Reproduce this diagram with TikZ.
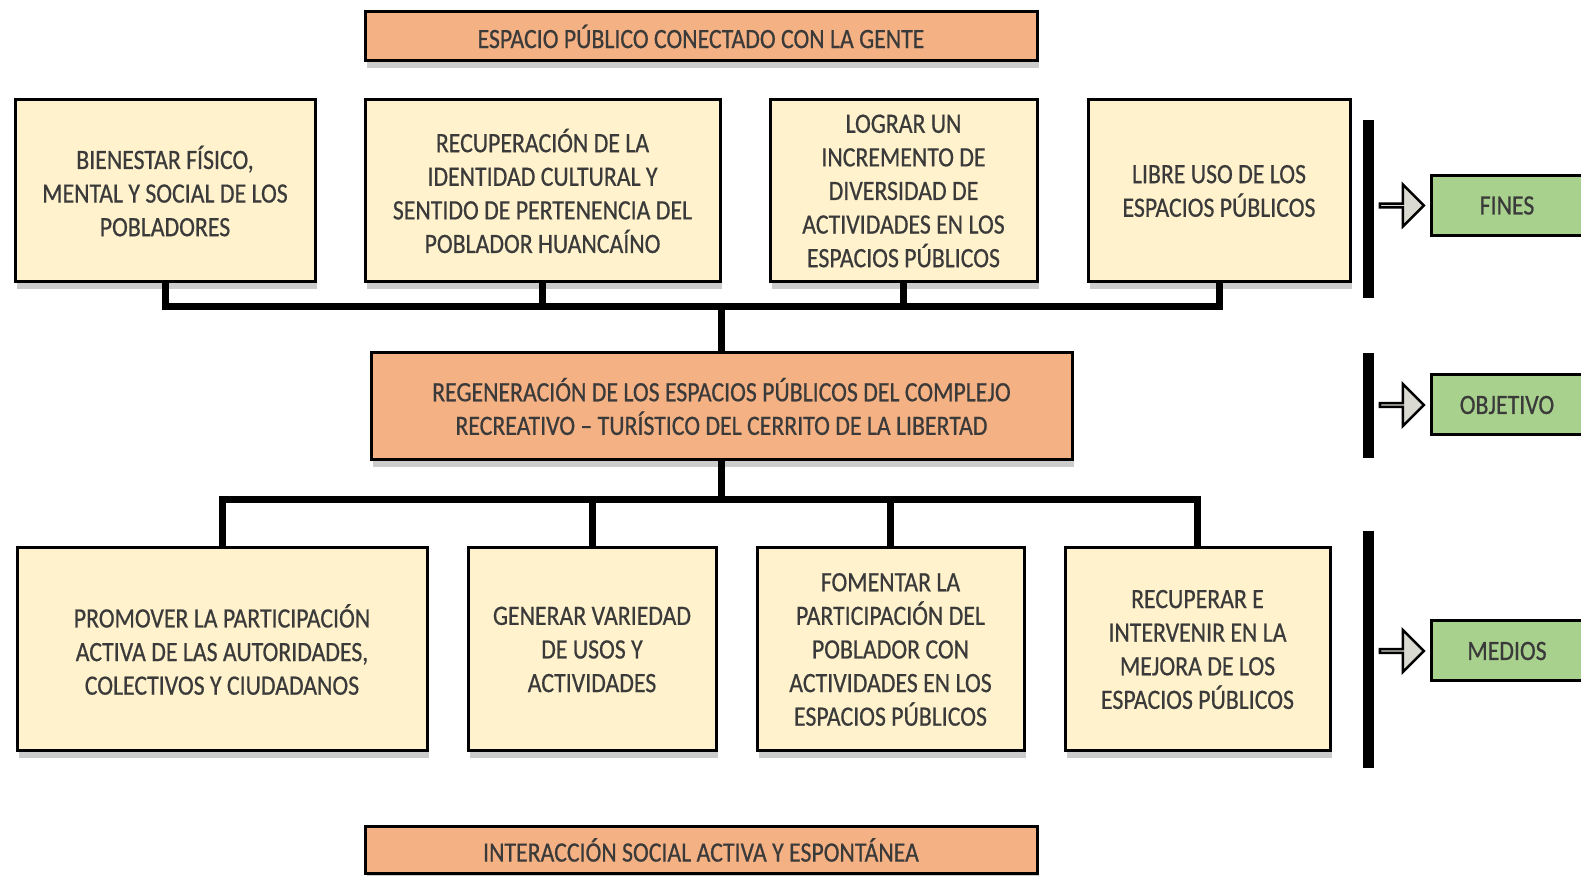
\documentclass[tikz,border=0pt]{standalone}
\usepackage{fontspec}
\setmainfont{Carlito}[FakeStretch=0.85, FakeBold=0.6]
\usepackage{tikz}
\usetikzlibrary{positioning}
\usetikzlibrary{shadows}
\usetikzlibrary{shapes.arrows}
\definecolor{creamfill}{HTML}{FFF2CC}
\definecolor{orangefill}{HTML}{F4B183}
\definecolor{greenfill}{HTML}{A9D18E}
\definecolor{arrowfill}{HTML}{DADAD2}
\definecolor{textgray}{HTML}{3A3A3A}
\tikzset{
  basebox/.style={draw=black, line width=1.5pt, align=center, inner sep=2pt,
    text=textgray, font=\fontsize{14}{16.8}\selectfont,
    drop shadow={shadow xshift=1pt, shadow yshift=-3.5pt, fill=black, opacity=0.2}},
  creambox/.style={basebox, fill=creamfill},
  orangebox/.style={basebox, fill=orangefill},
  greenbox/.style={draw=black, line width=1.5pt, fill=greenfill, text=textgray,
    font=\fontsize{14}{16.8}\selectfont, minimum width=85pt, minimum height=30pt},
  linker/.style={line width=3.5pt},
  sidebar/.style={line width=5.5pt},
  sidearrow/.style={single arrow, draw=black, line width=1.2pt, fill=arrowfill,
    minimum height=22pt, minimum width=21pt, single arrow head extend=6pt, inner sep=0pt}
}
\begin{document}
\begin{tikzpicture}[x=0.5pt, y=-0.5pt]
  % top and bottom %
  \node[orangebox, minimum width=336pt, minimum height=24.5pt] (espacio) at (701,36.5) {ESPACIO PÚBLICO CONECTADO CON LA GENTE};
  \node[orangebox, minimum width=336pt, minimum height=23.5pt] (interaccion) at (701,850) {INTERACCIÓN SOCIAL ACTIVA Y ESPONTÁNEA};
  % fines %
  \node[creambox, minimum width=150pt, minimum height=91pt] (bienestar) at (165,191) {BIENESTAR FÍSICO,\\MENTAL Y SOCIAL DE LOS\\POBLADORES};
  \node[creambox, minimum width=177.5pt, minimum height=91pt] (identidad) at (542.5,191) {RECUPERACIÓN DE LA\\IDENTIDAD CULTURAL Y\\SENTIDO DE PERTENENCIA DEL\\POBLADOR HUANCAÍNO};
  \node[creambox, minimum width=133.5pt, minimum height=91pt] (diversidad) at (903.5,191) {LOGRAR UN\\INCREMENTO DE\\DIVERSIDAD DE\\ACTIVIDADES EN LOS\\ESPACIOS PÚBLICOS};
  \node[creambox, minimum width=131pt, minimum height=91pt] (libre) at (1219,191) {LIBRE USO DE LOS\\ESPACIOS PÚBLICOS};
  % objetivo %
  \node[orangebox, minimum width=350.5pt, minimum height=53.5pt] (regeneracion) at (721.5,406.5) {REGENERACIÓN DE LOS ESPACIOS PÚBLICOS DEL COMPLEJO\\RECREATIVO -- TURÍSTICO DEL CERRITO DE LA LIBERTAD};
  % medios %
  \node[creambox, minimum width=205pt, minimum height=101.5pt] (promover) at (222,649.5) {PROMOVER LA PARTICIPACIÓN\\ACTIVA DE LAS AUTORIDADES,\\COLECTIVOS Y CIUDADANOS};
  \node[creambox, minimum width=124pt, minimum height=101.5pt] (generar) at (592,649.5) {GENERAR VARIEDAD\\DE USOS Y\\ACTIVIDADES};
  \node[creambox, minimum width=133.5pt, minimum height=101.5pt] (fomentar) at (890.5,649.5) {FOMENTAR LA\\PARTICIPACIÓN DEL\\POBLADOR CON\\ACTIVIDADES EN LOS\\ESPACIOS PÚBLICOS};
  \node[creambox, minimum width=132.5pt, minimum height=101.5pt] (recuperar) at (1197.5,649.5) {RECUPERAR E\\INTERVENIR EN LA\\MEJORA DE LOS\\ESPACIOS PÚBLICOS};
  % edges %
  \coordinate (busfines) at (721.5,307);
  \coordinate (busmedios) at (721.5,500);
  \draw[linker] (bienestar.south) |- (busfines);
  \draw[linker] (identidad.south) |- (busfines);
  \draw[linker] (diversidad.south) |- (busfines);
  \draw[linker] (libre.south) |- (busfines);
  \draw[linker] (busfines) -- (regeneracion.north);
  \draw[linker] (regeneracion.south) -- (busmedios);
  \draw[linker] (busmedios) -| (promover.north);
  \draw[linker] (busmedios) -| (generar.north);
  \draw[linker] (busmedios) -| (fomentar.north);
  \draw[linker] (busmedios) -| (recuperar.north);
  % side labels %
  \draw[sidebar] (1368,120) -- (1368,298);
  \draw[sidebar] (1368,353) -- (1368,458);
  \draw[sidebar] (1368,531) -- (1368,768);
  \node[greenbox] (fines) at (1516,205.5) {\hspace*{-9pt}FINES};
  \node[greenbox] (objetivo) at (1516,405) {\hspace*{-9pt}OBJETIVO};
  \node[greenbox] (medios) at (1516,651) {\hspace*{-9pt}MEDIOS};
  \node[sidearrow, left=2pt of fines] (afines) {};
  \node[sidearrow, left=2pt of objetivo] (aobjetivo) {};
  \node[sidearrow, left=2pt of medios] (amedios) {};
  % page size %
  \pgfresetboundingbox
  \useasboundingbox (0,0) rectangle (1581,876);
\end{tikzpicture}
\end{document}
